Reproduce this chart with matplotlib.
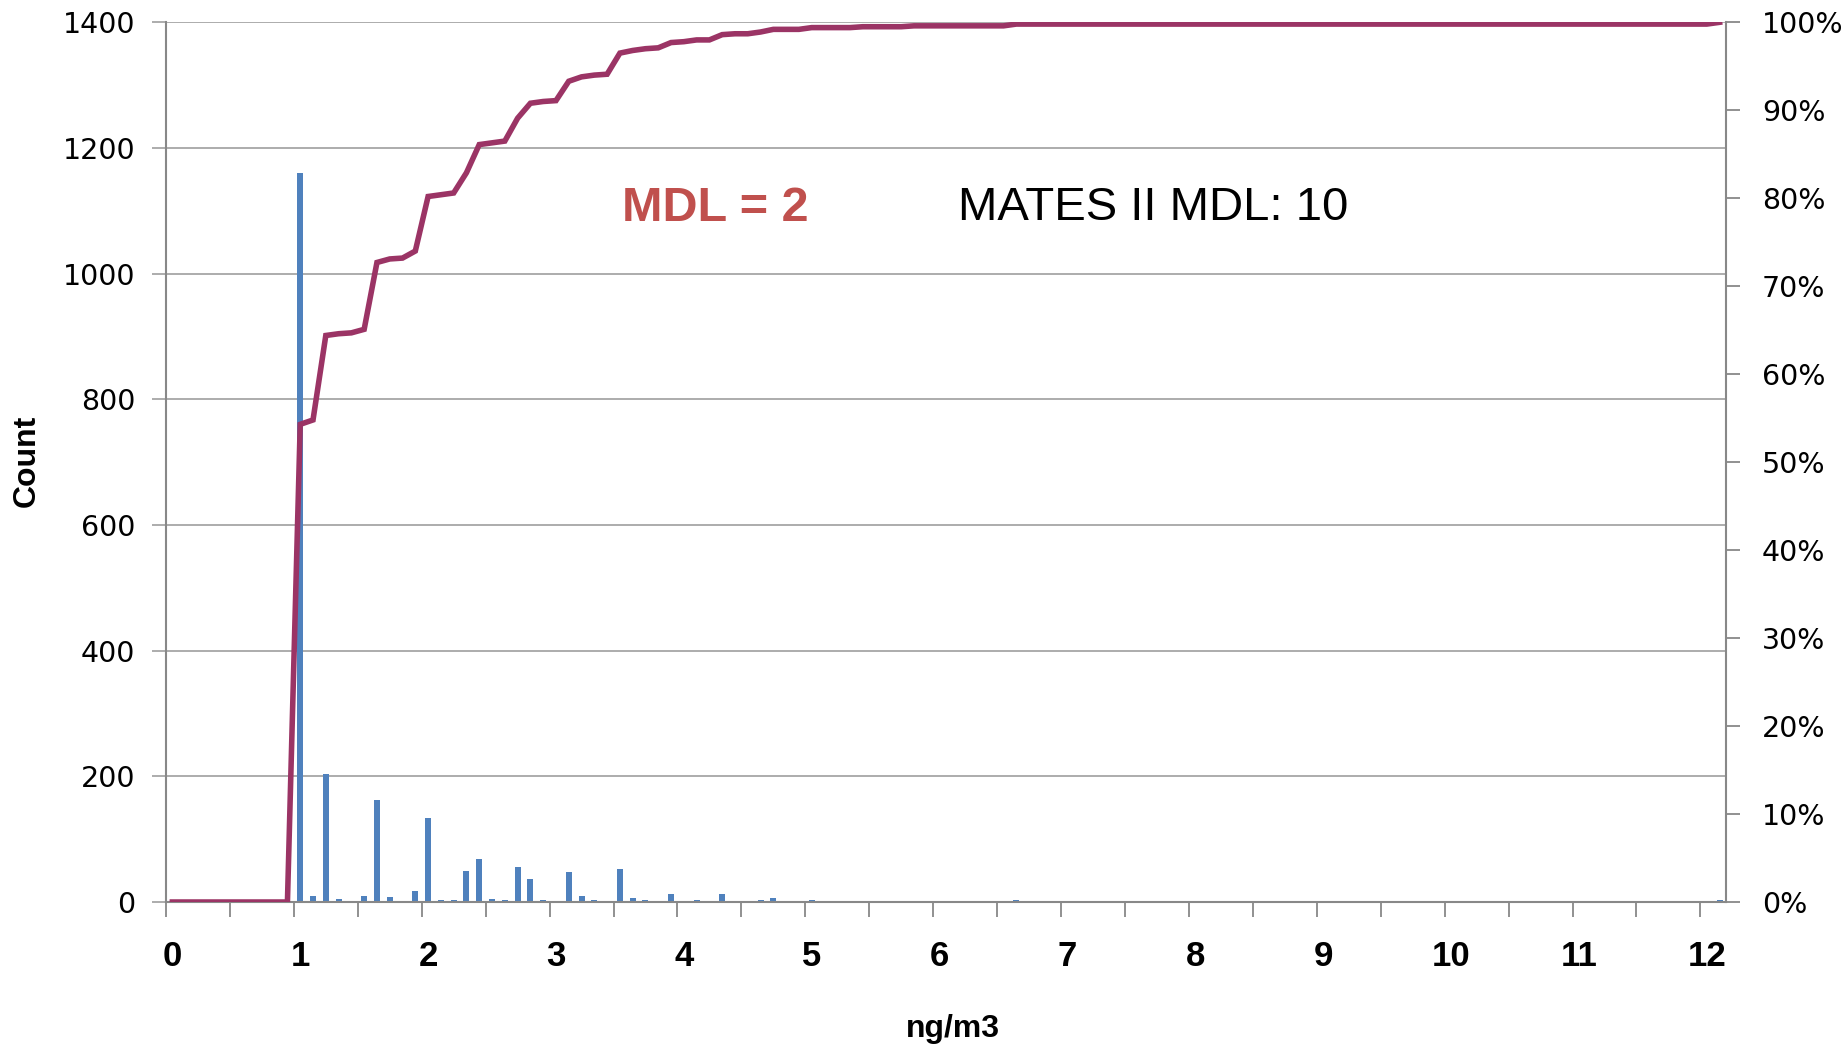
import matplotlib
matplotlib.use("Agg")
from matplotlib import pyplot as plt
import numpy as np

# bins of 0.1 ng/m3, from 0.0 to 12.1
bins = [round(i * 0.1, 1) for i in range(122)]

# counts
counts = [0, 0, 0, 0, 0, 0, 0, 0, 0, 0,
          1160, 10, 203, 5, 1, 10, 162, 8, 2, 18,
          133, 4, 4, 50, 69, 5, 4, 56, 36, 4,
          2, 48, 10, 4, 2, 52, 7, 4, 1, 13,
          2, 4, 1, 13, 1, 1, 4, 7, 0, 0,
          4, 1, 0, 0, 1, 1, 0, 0, 1, 0,
          0, 0, 1, 0, 0, 0, 3, 0, 0, 0,
          1, 0, 0, 0, 0, 0, 0, 1, 0, 0,
          0, 0, 0, 0, 0, 0, 0, 0, 0, 0,
          0, 0, 0, 0, 0, 0, 0, 0, 0, 0,
          0, 0, 0, 0, 0, 0, 0, 0, 0, 0,
          0, 0, 0, 0, 0, 0, 0, 0, 0, 0,
          0, 4]

# cumulative %
cumul = [0, 0, 0, 0, 0, 0, 0, 0, 0, 0,
         54.3, 54.8, 64.4, 64.6, 64.7, 65.1, 72.7, 73.1, 73.2, 74.0,
         80.2, 80.4, 80.6, 82.9, 86.1, 86.3, 86.5, 89.1, 90.8, 91.0,
         91.1, 93.3, 93.8, 94.0, 94.1, 96.5, 96.8, 97.0, 97.1, 97.7,
         97.8, 98.0, 98.0, 98.6, 98.7, 98.7, 98.9, 99.2, 99.2, 99.2,
         99.4, 99.4, 99.4, 99.4, 99.5, 99.5, 99.5, 99.5, 99.6, 99.6,
         99.6, 99.6, 99.6, 99.6, 99.6, 99.6, 99.8, 99.8, 99.8, 99.8,
         99.8, 99.8, 99.8, 99.8, 99.8, 99.8, 99.8, 99.8, 99.8, 99.8,
         99.8, 99.8, 99.8, 99.8, 99.8, 99.8, 99.8, 99.8, 99.8, 99.8,
         99.8, 99.8, 99.8, 99.8, 99.8, 99.8, 99.8, 99.8, 99.8, 99.8,
         99.8, 99.8, 99.8, 99.8, 99.8, 99.8, 99.8, 99.8, 99.8, 99.8,
         99.8, 99.8, 99.8, 99.8, 99.8, 99.8, 99.8, 99.8, 99.8, 99.8,
         99.8, 100.0]

x_labels = [str(i) for i in range(13)]
y_ticks = [0, 200, 400, 600, 800, 1000, 1200, 1400]
pct_ticks = [i * 10 for i in range(11)]

bleu = "#4F81BD"
violet = "#9B3465"
gris = "#A6A6A6"
gris_axe = "#888888"

fig = plt.figure(figsize=(18.44, 10.48), dpi=100)
ax = fig.add_axes([0.090, 0.1393, 0.846, 0.8394])

ax.bar(bins, counts, width=0.047, color=bleu, zorder=2)
ax.set_xlim(-0.05, 12.15)
ax.set_ylim(0, 1400)
ax.set_yticks(y_ticks)
ax.set_yticklabels([str(v) for v in y_ticks], fontsize=20.5, family="DejaVu Sans")
ax.yaxis.grid(True, color=gris, linewidth=1.3, zorder=0)
ax.set_axisbelow(True)

# tick marks every 5 bins, labels every 10 bins
ax.set_xticks(np.arange(-0.05, 12.2, 0.5))
ax.set_xticklabels([])
ax.set_xticks(range(13), minor=True)
ax.set_xticklabels(x_labels, minor=True, fontsize=25, fontweight="bold",
                   family="Liberation Sans")
ax.tick_params(axis="x", which="major", length=11, width=1.3, color=gris_axe)
ax.tick_params(axis="x", which="minor", length=0, pad=27)
ax.tick_params(axis="y", length=10, width=1.3, color=gris, pad=12)

for s in ["left", "bottom"]:
    ax.spines[s].set_color(gris_axe)
    ax.spines[s].set_linewidth(1.5)
ax.spines["top"].set_visible(False)
ax.spines["right"].set_visible(False)

ax2 = ax.twinx()
ax2.plot(bins, cumul, color=violet, linewidth=4, zorder=3, solid_joinstyle="miter")
ax2.set_ylim(0, 100)
ax2.set_yticks(pct_ticks)
ax2.set_yticklabels([f"{v}%" for v in pct_ticks], fontsize=20.5, family="DejaVu Sans")
ax2.tick_params(axis="y", length=10, width=1.3, color=gris_axe, pad=16)
ax2.spines["right"].set_color(gris_axe)
ax2.spines["right"].set_linewidth(1.5)
for s in ["left", "top", "bottom"]:
    ax2.spines[s].set_visible(False)

fig.text(0.0146, 0.56, "Count", rotation=90, ha="center", va="center",
         fontsize=23, fontweight="bold", family="Liberation Sans")
fig.text(0.517, 0.0185, "ng/m3", ha="center", va="center",
         fontsize=23, fontweight="bold", family="Liberation Sans")

fig.text(0.3373, 0.8015, "MDL = 2", ha="left", va="center", color="#C0504D",
         fontsize=35, fontweight="bold", family="Liberation Sans")
fig.text(0.5195, 0.8015, "MATES II MDL: 10", ha="left", va="center", color="black",
         fontsize=34, family="Liberation Sans")

fig.savefig("out.png", dpi=100)
